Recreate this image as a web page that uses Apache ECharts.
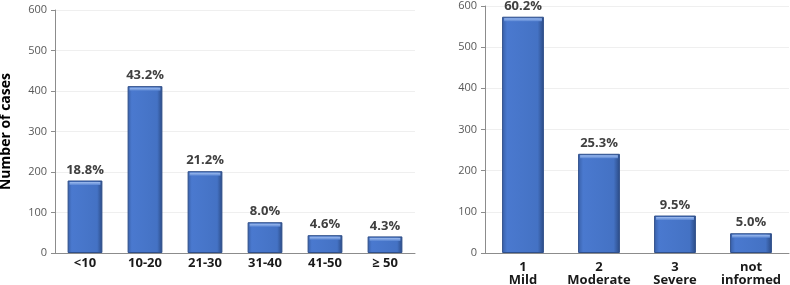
<!DOCTYPE html>
<html>
<head>
<meta charset="utf-8">
<script src="https://cdn.jsdelivr.net/npm/echarts@6/dist/echarts.min.js"></script>
<style>
  html, body { margin: 0; padding: 0; background: #fff; }
  #chart { width: 790px; height: 285px; }
</style>
</head>
<body>
<div id="chart"></div>
<script>
// 年龄组
const ageGroups = ['<10', '10-20', '21-30', '31-40', '41-50', '≥ 50'];
const ageCases = [179, 412, 202, 76, 44, 41];
const agePct = ['18.8%', '43.2%', '21.2%', '8.0%', '4.6%', '4.3%'];

// 严重程度
const severityGroups = ['1\nMild', '2\nModerate', '3\nSevere', 'not\ninformed'];
const severityCases = [574, 241, 91, 48];
const severityPct = ['60.2%', '25.3%', '9.5%', '5.0%'];

const yTicks = { min: 0, max: 600, interval: 100 };

const fontFamily = '"Open Sans", "Liberation Sans", sans-serif';

// 柱子样式 (仿立体效果)
const barStyle = {
    color: new echarts.graphic.LinearGradient(0, 0, 1, 0, [
        { offset: 0, color: '#3960A8' },
        { offset: 0.12, color: '#4A79CF' },
        { offset: 0.85, color: '#4472C4' },
        { offset: 1, color: '#2B4A84' }
    ]),
    borderColor: '#2F4F8A',
    borderWidth: 1
};

function yAxis(gridIndex, showName) {
    return {
        type: 'value',
        gridIndex: gridIndex,
        min: yTicks.min,
        max: yTicks.max,
        interval: yTicks.interval,
        name: showName ? 'Number of cases' : '',
        nameLocation: 'middle',
        nameGap: 42,
        nameTextStyle: { fontFamily: fontFamily, fontWeight: 'bold', fontSize: 14, color: '#000' },
        axisLine: { show: true, lineStyle: { color: '#8c8c8c' } },
        axisTick: { show: true, length: 4, lineStyle: { color: '#8c8c8c' } },
        axisLabel: { fontFamily: fontFamily, fontSize: 11, color: '#595959', margin: 8 },
        splitLine: { lineStyle: { color: '#efefef' } }
    };
}

function xAxis(gridIndex, data, margin, lineHeight) {
    return {
        type: 'category',
        gridIndex: gridIndex,
        data: data,
        axisLine: { lineStyle: { color: '#8c8c8c' } },
        axisTick: { show: false },
        axisLabel: {
            fontFamily: fontFamily, fontSize: 13, fontWeight: 'bold',
            color: '#1a1a1a', margin: margin, lineHeight: lineHeight, interval: 0
        }
    };
}

function barSeries(index, values, pct, gap) {
    return {
        type: 'bar',
        xAxisIndex: index,
        yAxisIndex: index,
        data: values,
        barCategoryGap: gap,
        itemStyle: barStyle,
        label: {
            show: true,
            position: 'top',
            distance: 4,
            fontFamily: fontFamily,
            fontSize: 13,
            fontWeight: 'bold',
            color: '#404040',
            formatter: p => pct[p.dataIndex]
        }
    };
}

// 柱顶高光条
function highlightSeries(index, values, gap) {
    const frac = 1 - parseFloat(gap) / 100;
    return {
        type: 'custom',
        xAxisIndex: index,
        yAxisIndex: index,
        data: values,
        silent: true,
        z: 3,
        renderItem: function (params, api) {
            const top = api.coord([api.value(0), api.value(1)]);
            const w = api.size([1, 0])[0] * frac;
            return {
                type: 'rect',
                shape: { x: top[0] - w / 2 + 2, y: top[1] + 1.5, width: w - 4, height: 3 },
                style: {
                    fill: new echarts.graphic.LinearGradient(0, 0, 0, 1, [
                        { offset: 0, color: '#9DBBEE' },
                        { offset: 1, color: '#5B87D4' }
                    ])
                }
            };
        },
        encode: { x: 0, y: 1 }
    };
}

const chart = echarts.init(document.getElementById('chart'));
chart.setOption({
    animation: false,
    grid: [
        { left: 55, right: 375, top: 10, bottom: 32, outerBoundsMode: 'none' },
        { left: 485, right: 1, top: 6, bottom: 32, outerBoundsMode: 'none' }
    ],
    xAxis: [xAxis(0, ageGroups, 4, 13), xAxis(1, severityGroups, 8, 13)],
    yAxis: [yAxis(0, true), yAxis(1, false)],
    series: [
        barSeries(0, ageCases, agePct, '42%'),
        barSeries(1, severityCases, severityPct, '45%'),
        highlightSeries(0, ageCases.map((v, i) => [i, v]), '42%'),
        highlightSeries(1, severityCases.map((v, i) => [i, v]), '45%')
    ]
});
</script>
</body>
</html>
